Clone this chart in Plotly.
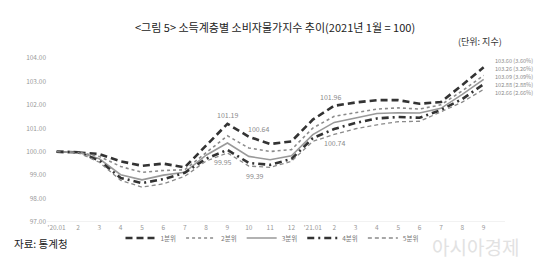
import plotly.graph_objects as go

months = ["'20.01", "2", "3", "4", "5", "6", "7", "8", "9", "10", "11", "12",
          "'21.01", "2", "3", "4", "5", "6", "7", "8", "9"]

q1 = [100.00, 99.97, 99.90, 99.59, 99.40, 99.49, 99.33, 100.25, 101.19, 100.64, 100.33, 100.44,
      101.37, 101.96, 102.10, 102.20, 102.20, 102.05, 102.12, 102.85, 103.60]
q2 = [100.00, 99.98, 99.80, 99.37, 99.12, 99.20, 99.23, 99.95, 100.68, 100.16, 100.01, 100.09,
      101.01, 101.51, 101.65, 101.82, 101.87, 101.82, 102.00, 102.60, 103.26]
q3 = [100.00, 99.98, 99.70, 99.02, 98.80, 99.00, 99.12, 99.85, 100.37, 99.80, 99.66, 99.83,
      100.73, 101.25, 101.44, 101.63, 101.66, 101.65, 101.85, 102.45, 103.09]
q4 = [100.00, 99.98, 99.62, 98.88, 98.66, 98.83, 99.10, 99.70, 100.08, 99.52, 99.44, 99.69,
      100.58, 100.97, 101.23, 101.42, 101.48, 101.45, 101.78, 102.25, 102.88]
q5 = [100.00, 99.97, 99.55, 98.78, 98.49, 98.63, 98.95, 99.60, 99.95, 99.39, 99.33, 99.59,
      100.44, 100.74, 100.98, 101.15, 101.28, 101.30, 101.70, 102.12, 102.66]

names = ["1분위", "2분위", "3분위", "4분위", "5분위"]
end_labels = ["103.60 (3.60%)", "103.26 (3.26%)", "103.09 (3.09%)", "102.88 (2.88%)", "102.66 (2.66%)"]
series = [q1, q2, q3, q4, q5]
styles = [
    dict(color="#333333", width=2.6, dash="7px,4px"),
    dict(color="#8a8a8a", width=1.6, dash="dot"),
    dict(color="#999999", width=1.6, dash="solid"),
    dict(color="#333333", width=2.6, dash="7px,4px,2px,4px"),
    dict(color="#8a8a8a", width=1.3, dash="4px,3px"),
]

L, R, T, B = 47, 45, 58, 53
W, H = 550, 275
pw, ph = W - L - R, H - T - B
def px(xp):
    return (xp - L) / pw
def py_(yp):
    return (H - B - yp) / ph

x = list(range(len(months)))
fig = go.Figure()
for nm, ys, st in zip(names, series, styles):
    fig.add_trace(go.Scatter(x=x, y=ys, mode="lines", name=nm, line=st))

lab_font = dict(family="Noto Sans CJK KR", size=7, color="#8a8a8a")
point_labels = [
    (8, q1[8], "101.19", 0, 9),
    (9, q1[9], "100.64", 10, 8),
    (8, q5[8], "99.95", -4, -9),
    (9, q5[9], "99.39", 6, -10),
    (13, q1[13], "101.96", -4, 9),
    (13, q5[13], "100.74", 0, -9),
]
ann = []
for xi, yi, t, xs, ys in point_labels:
    ann.append(dict(x=xi, y=yi, xref="x", yref="y", text=t, showarrow=False,
                    xshift=xs, yshift=ys, font=lab_font))
end_pix = [61, 69, 77, 85, 93]
for t, pyy in zip(end_labels, end_pix):
    ann.append(dict(x=px(494), y=py_(pyy), xref="paper", yref="paper", text=t, showarrow=False,
                    xanchor="left", yanchor="middle", borderpad=0,
                    font=dict(family="Noto Sans CJK KR", size=5.6, color="#8a8a8a")))

ann += [
    dict(x=px(275), y=py_(17), xref="paper", yref="paper",
         text="<그림 5> 소득계층별 소비자물가지수 추이(2021년 1월 = 100)",
         showarrow=False, font=dict(family="Noto Sans CJK KR", size=11, color="#222222")),
    dict(x=px(504), y=py_(33), xref="paper", yref="paper", text="(단위: 지수)",
         showarrow=False, xanchor="right",
         font=dict(family="Noto Sans CJK KR", size=9, color="#333333")),
    dict(x=px(12), y=py_(253), xref="paper", yref="paper", text="자료: 통계청",
         showarrow=False, xanchor="left",
         font=dict(family="Noto Sans CJK KR", size=10.5, color="#222222")),
    dict(x=px(430), y=py_(262), xref="paper", yref="paper", text="아시아경제",
         showarrow=False, xanchor="left",
         font=dict(family="Noto Sans CJK KR", size=19, color="#e2e2e2")),
]

fig.update_layout(
    width=W, height=H,
    margin=dict(l=L, r=R, t=T, b=B),
    paper_bgcolor="white", plot_bgcolor="white",
    font=dict(family="Noto Sans CJK KR"),
    annotations=ann,
    showlegend=True,
    legend=dict(orientation="h", x=px(272), y=py_(238), xanchor="center", yanchor="middle",
                font=dict(family="Noto Sans CJK KR", size=6.5, color="#777777"),
                itemwidth=30, tracegroupgap=0, bgcolor="rgba(0,0,0,0)"),
    xaxis=dict(range=[-0.45, 21.0], tickmode="array", tickvals=x, ticktext=months,
               showgrid=False, zeroline=False, showline=False, ticks="",
               tickfont=dict(size=6.5, color="#999999")),
    yaxis=dict(range=[97, 104], tickvals=[97, 98, 99, 100, 101, 102, 103, 104],
               tickformat=".2f", showgrid=False, zeroline=False, showline=False, ticks="",
               tickfont=dict(size=6.5, color="#999999")),
)
fig.add_hline(y=97, line=dict(color="#e4e4e4", width=1))
fig.write_html("out.html")
